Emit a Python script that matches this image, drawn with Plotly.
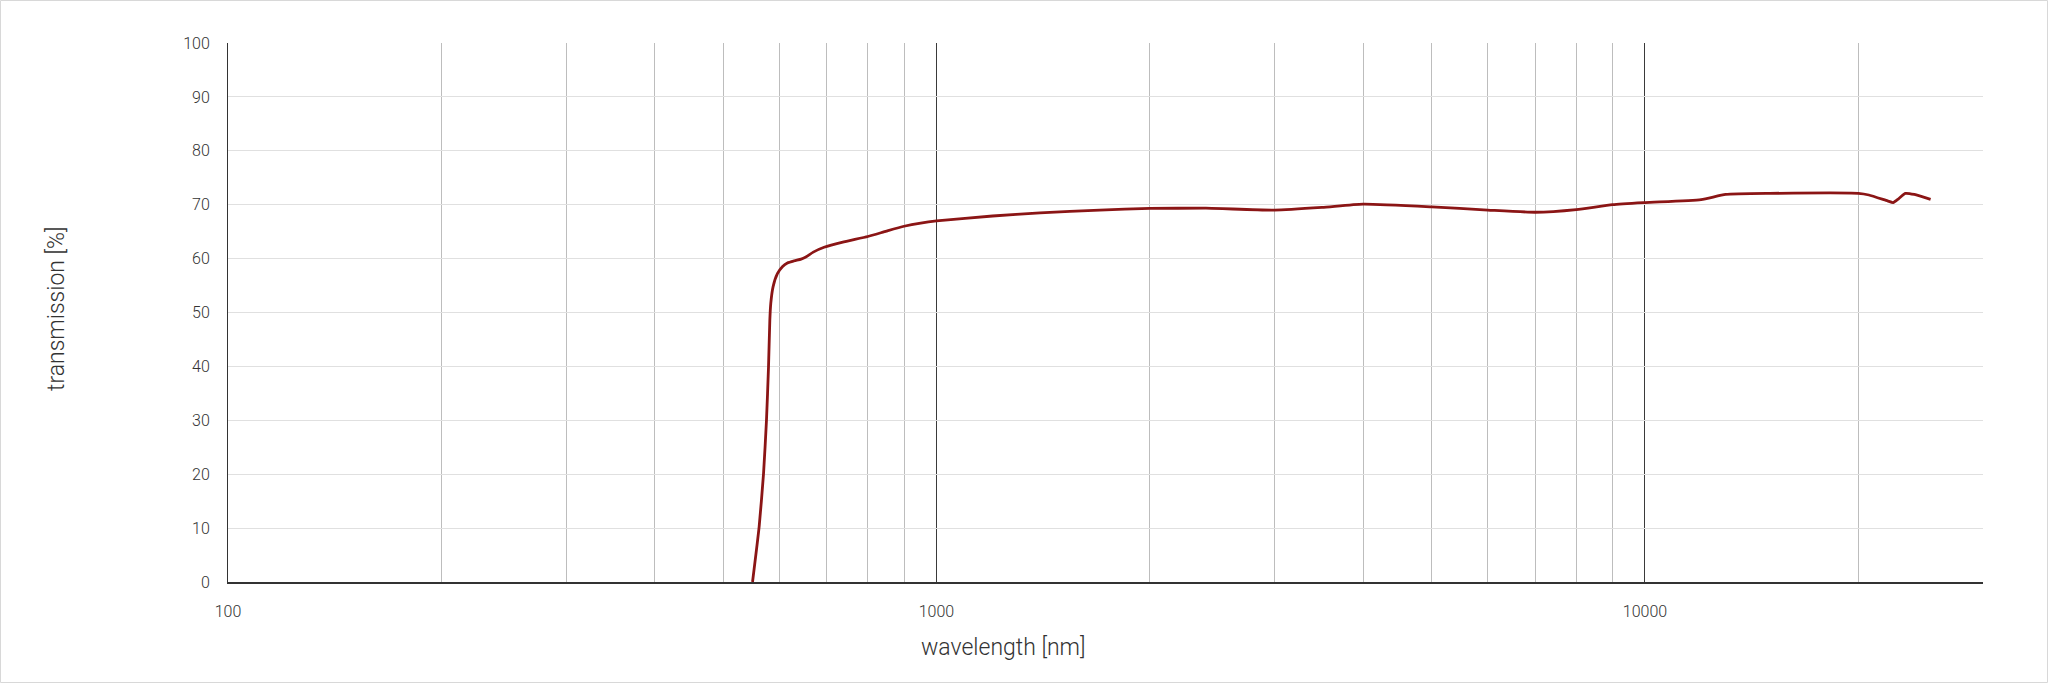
import plotly.graph_objects as go

# Data
wavelength_nm = [550, 562, 570, 575.5, 579.3, 581.8, 583.6, 588, 596.3, 606, 616, 630, 644,
                 654, 670, 694, 740, 800, 850, 900, 950, 1000, 1200, 1400, 1700, 2000, 2400,
                 3000, 3500, 4000, 5000, 6000, 7000, 8000, 9000, 10000, 12000, 13000, 15000,
                 20000, 20700, 22000, 22400, 22800, 23300, 24000, 25300]
transmission_pct = [0, 10.3, 20.1, 30, 39.9, 48.6, 51.7, 54.8, 57.2, 58.5, 59.2, 59.6, 59.9,
                    60.3, 61.2, 62.1, 63.1, 64.1, 65.1, 66.0, 66.6, 67.0, 67.9, 68.5, 69.0, 69.3,
                    69.35, 69.0, 69.5, 70.1, 69.6, 69.0, 68.6, 69.1, 70.0, 70.4, 70.95, 71.9, 72.1,
                    72.1, 71.8, 70.7, 70.4, 71.1, 72.1, 71.9, 71.0]

major_ticks = [100, 1000, 10000]
minor_ticks = [200, 300, 400, 500, 600, 700, 800, 900,
               2000, 3000, 4000, 5000, 6000, 7000, 8000, 9000,
               20000, 30000]
y_ticks = list(range(0, 101, 10))

FONT = "Roboto"
W, H = 2048, 683
L, R, T, B = 228, 65, 43, 101
pw, ph = W - L - R, H - T - B

fig = go.Figure()
fig.add_trace(go.Scatter(
    x=wavelength_nm, y=transmission_pct, mode="lines",
    line=dict(color="#8b1515", width=2.8, shape="spline", smoothing=0.5),
    hoverinfo="x+y", showlegend=False,
))

fig.update_layout(
    width=W, height=H,
    margin=dict(l=L, r=R, t=T, b=B),
    paper_bgcolor="white", plot_bgcolor="white",
    font=dict(family=FONT, size=16, color="#333333", weight=300),
    xaxis=dict(
        type="log", range=[2, 4.4771],
        tickmode="array", tickvals=major_ticks, ticktext=[str(v) for v in major_ticks],
        showgrid=True, gridcolor="#3a3a3a", gridwidth=1,
        minor=dict(tickmode="array", tickvals=minor_ticks, showgrid=True,
                   gridcolor="#bdbdbd", gridwidth=1, ticks=""),
        showline=True, linecolor="#333333", linewidth=2,
        ticks="", ticklabelstandoff=14,
        tickfont=dict(family=FONT, size=16, color="#333333", weight=300),
        zeroline=False,
    ),
    yaxis=dict(
        range=[0, 100], tickmode="array", tickvals=y_ticks,
        showgrid=True, gridcolor="#e0e0e0", gridwidth=1,
        showline=True, linecolor="#333333", linewidth=1,
        ticks="", ticklabelstandoff=14,
        tickfont=dict(family=FONT, size=16, color="#333333", weight=300),
        zeroline=False,
    ),
    annotations=[
        dict(text="wavelength [nm]", xref="paper", yref="paper",
             x=(1003 - L) / pw, y=-(647 - (T + ph)) / ph, xanchor="center", yanchor="middle",
             showarrow=False, font=dict(family=FONT, size=23, color="#333333", weight=300)),
        dict(text="transmission [%]", xref="paper", yref="paper", textangle=-90,
             x=-(L - 57) / pw, y=1 - (309 - T) / ph, xanchor="center", yanchor="middle",
             showarrow=False, font=dict(family=FONT, size=23, color="#333333", weight=300)),
    ],
    shapes=[
        dict(type="rect", xref="paper", yref="paper",
             x0=-(L - 0.5) / pw, x1=1 + (R - 0.5) / pw,
             y0=-(B - 0.5) / ph, y1=1 + (T - 0.5) / ph,
             line=dict(color="#d8d8d8", width=1), fillcolor="rgba(0,0,0,0)", layer="below"),
    ],
)

fig.write_html("out.html", config={"displayModeBar": False},
               post_script="document.body.style.margin='0';document.body.style.overflow='hidden';")
